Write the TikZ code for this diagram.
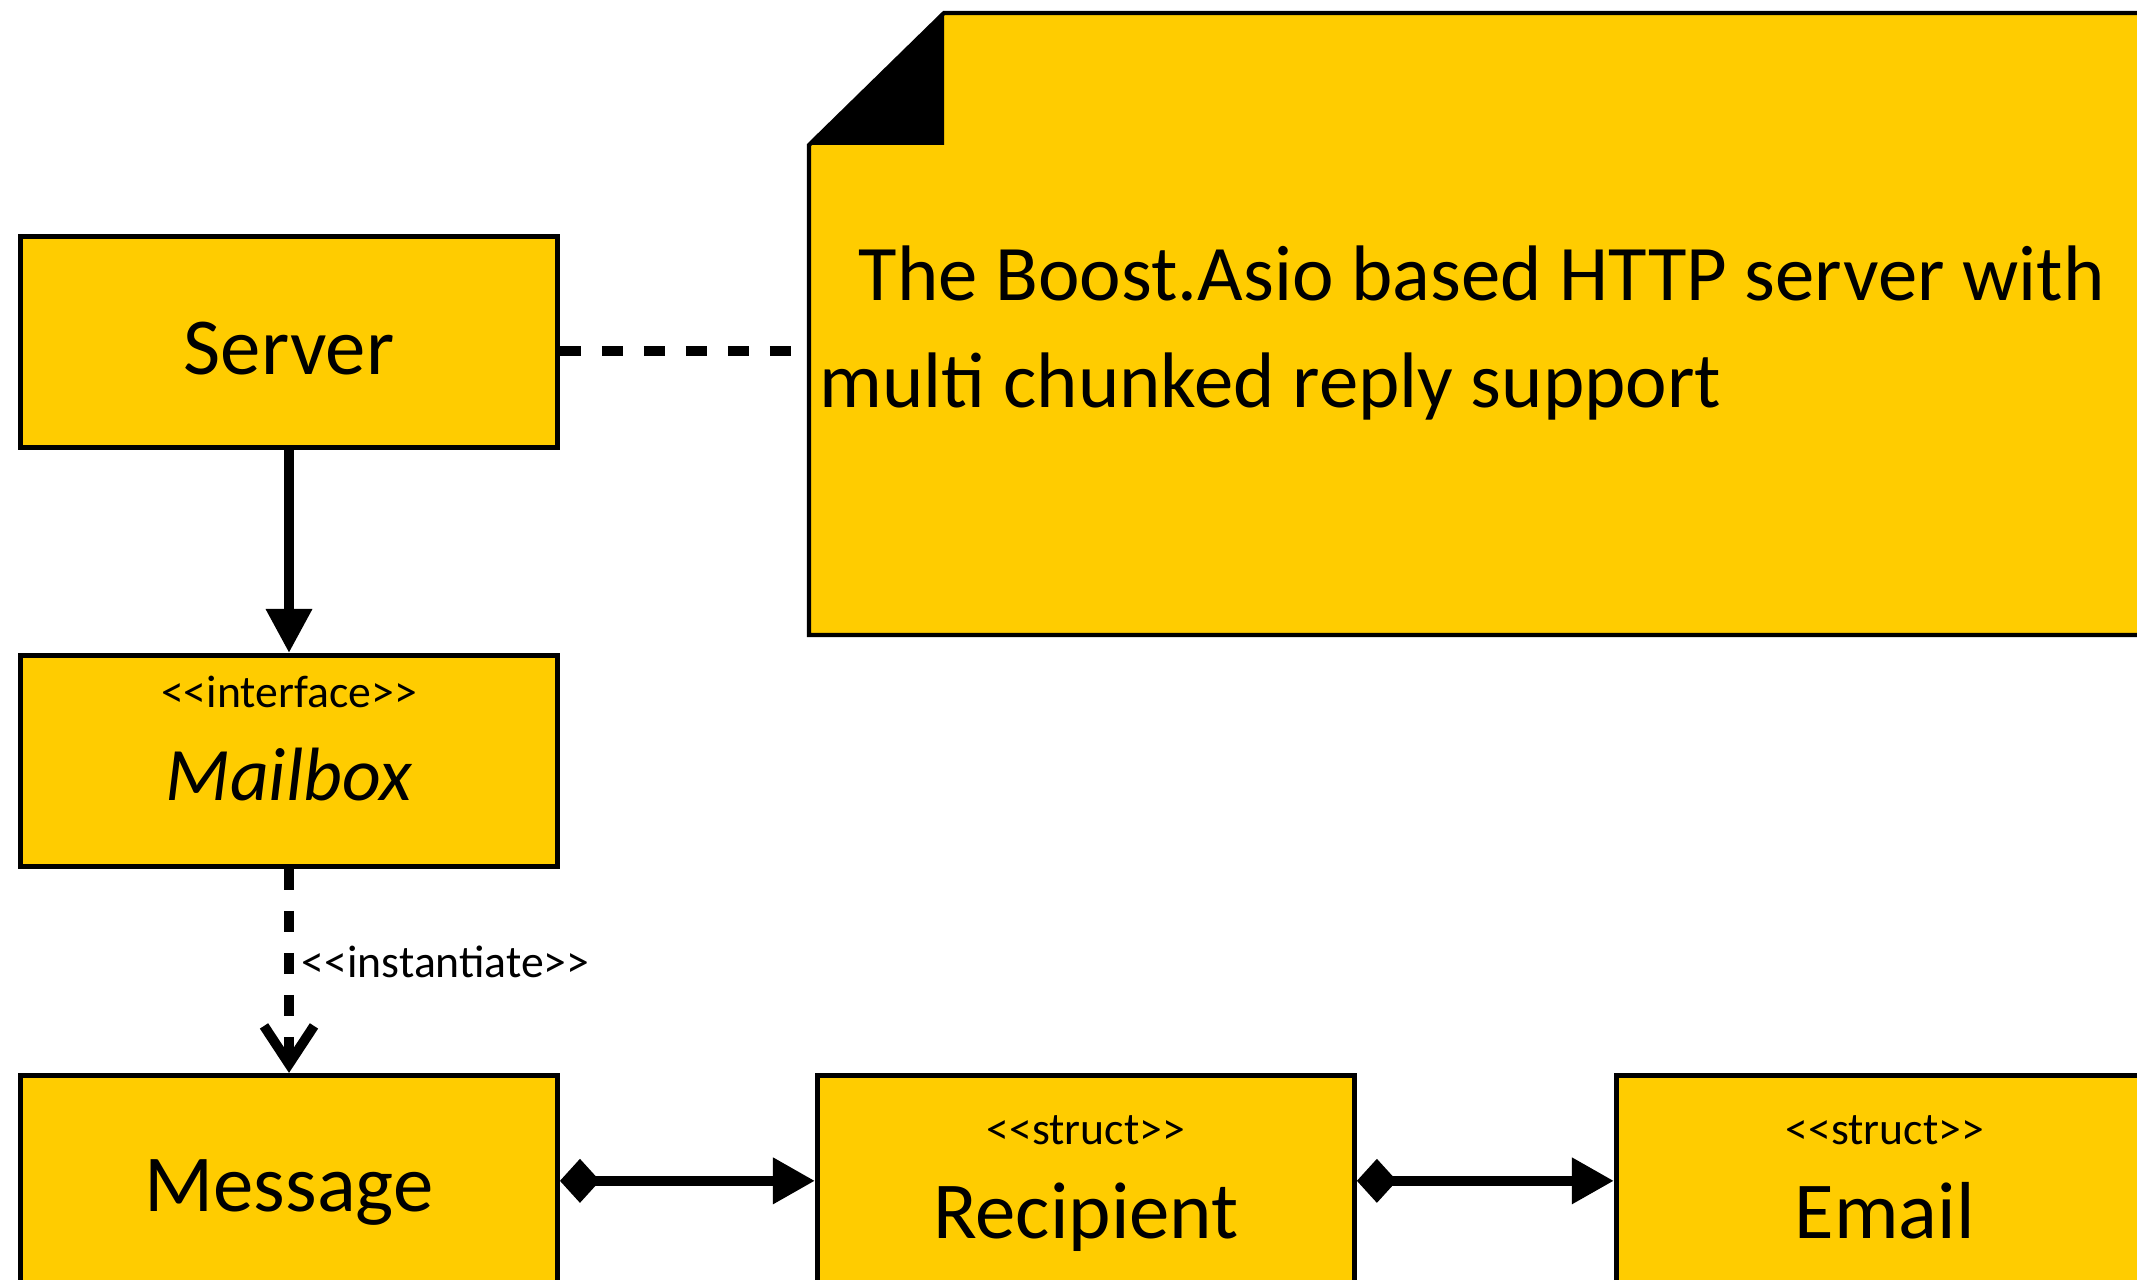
\documentclass[tikz,border=0pt]{standalone}
\usepackage{fontspec}
\setmainfont{Carlito}
\usetikzlibrary{arrows.meta,positioning}
\definecolor{gold}{RGB}{255,204,0}
\tikzset{
  umlbox/.style={draw=black,line width=1.4pt,fill=gold,minimum width=5.37cm,
    minimum height=2.11cm,inner sep=0pt,text depth=0pt,text height=#1,
    font=\fontsize{23}{26}\selectfont},
  umlbox/.default=0.66cm,
  stereo/.style={font=\fontsize{13}{15}\selectfont,anchor=base,inner sep=0pt},
  link/.style={line width=2.8pt,draw=black},
  dashlink/.style={link,dash pattern=on 0.21cm off 0.21cm},
  notetext/.style={font=\fontsize{22.4}{30}\selectfont,anchor=base west,inner sep=0pt},
  composes/.style={link,{Diamond[length=0.40cm,width=0.44cm]}-{Triangle[length=0.42cm,width=0.44cm]}},
}
\begin{document}
\begin{tikzpicture}
  \useasboundingbox (0,0) rectangle (21.37,-12.80);
  \clip (0,0) rectangle (21.37,-12.80);
  % note with folded corner
  \filldraw[fill=gold,draw=black,line width=1.2pt] (8.09,-6.35) -- (8.09,-1.45) -- (9.44,-0.13)
    -- (21.7,-0.13) -- (21.7,-6.35) -- cycle;
  \fill[black] (8.09,-1.45) -- (9.44,-0.13) -- (9.44,-1.45) -- cycle;
  \node[notetext] (noteline1) at (8.58,-3.01) {The Boost.Asio based HTTP server with};
  \node[notetext] (noteline2) at (8.19,-4.08) {multi chunked reply support};
  \coordinate (notehook) at (7.94,-3.51);
  % classes
  \node[umlbox] (server) at (2.89,-3.42) {Server};
  \node[umlbox=0.80cm,below=2.03cm of server] (mailbox) {\fontsize{21.5}{24}\itshape Mailbox};
  \node[umlbox=0.62cm,below=2.04cm of mailbox] (message) {Message};
  \node[umlbox=1.15cm,right=2.55cm of message] (recipient) {Recipient};
  \node[umlbox=1.15cm,right=2.57cm of recipient] (email) {Email};
  \node[stereo] (mailboxtag) at ([yshift=-0.55cm]mailbox.north) {<{}<interface>{}>};
  \node[stereo] (recipienttag) at ([yshift=-0.72cm]recipient.north) {<{}<struct>{}>};
  \node[stereo] (emailtag) at ([yshift=-0.72cm]email.north) {<{}<struct>{}>};
  % relations
  \draw[dashlink] (server.east |- notehook) -- (notehook);
  \draw[link,-{Triangle[length=0.44cm,width=0.44cm]}] (server) -- (mailbox);
  \draw[dashlink,-{Straight Barb[length=0.38cm,width=0.5cm]}] (mailbox) -- (message)
    node[stereo,anchor=base west,pos=0.5,xshift=0.08cm,yshift=-0.07cm] (instlabel) {<{}<instantiate>{}>};
  \draw[composes] (message) -- (recipient);
  \draw[composes] (recipient) -- (email);
\end{tikzpicture}
\end{document}
